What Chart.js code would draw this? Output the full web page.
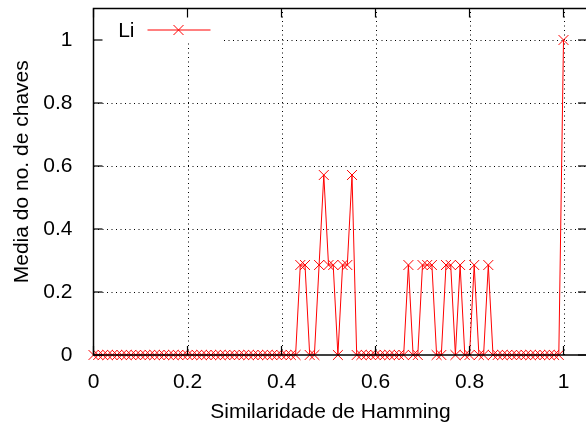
<!DOCTYPE html>
<html>
<head>
<meta charset="utf-8">
<script src="https://cdn.jsdelivr.net/npm/chart.js@4/dist/chart.umd.min.js"></script>
<style>
  html, body { margin: 0; padding: 0; background: #fff; overflow: hidden; }
  canvas { display: block; }
</style>
</head>
<body>
<canvas id="c" width="595" height="427"></canvas>
<script>
// ============================================================
// DATA
// ============================================================
const serieNome = 'Li';
const tituloX = 'Similaridade de Hamming';
const tituloY = 'Media do no. de chaves';

const similaridade = [
  0.00, 0.01, 0.02, 0.03, 0.04, 0.05, 0.06, 0.07, 0.08, 0.09,
  0.10, 0.11, 0.12, 0.13, 0.14, 0.15, 0.16, 0.17, 0.18, 0.19,
  0.20, 0.21, 0.22, 0.23, 0.24, 0.25, 0.26, 0.27, 0.28, 0.29,
  0.30, 0.31, 0.32, 0.33, 0.34, 0.35, 0.36, 0.37, 0.38, 0.39,
  0.40, 0.41, 0.42, 0.43, 0.44, 0.45, 0.46, 0.47, 0.48, 0.49,
  0.50, 0.51, 0.52, 0.53, 0.54, 0.55, 0.56, 0.57, 0.58, 0.59,
  0.60, 0.61, 0.62, 0.63, 0.64, 0.65, 0.66, 0.67, 0.68, 0.69,
  0.70, 0.71, 0.72, 0.73, 0.74, 0.75, 0.76, 0.77, 0.78, 0.79,
  0.80, 0.81, 0.82, 0.83, 0.84, 0.85, 0.86, 0.87, 0.88, 0.89,
  0.90, 0.91, 0.92, 0.93, 0.94, 0.95, 0.96, 0.97, 0.98, 0.99,
  1.00
];

const mediaChaves = [
  0, 0, 0, 0, 0, 0, 0, 0, 0, 0,
  0, 0, 0, 0, 0, 0, 0, 0, 0, 0,
  0, 0, 0, 0, 0, 0, 0, 0, 0, 0,
  0, 0, 0, 0, 0, 0, 0, 0, 0, 0,
  0, 0, 0, 0, 0.2857, 0.2857, 0, 0, 0.2857, 0.5714,
  0.2857, 0.2857, 0, 0.2857, 0.2857, 0.5714, 0, 0, 0, 0,
  0, 0, 0, 0, 0, 0, 0, 0.2857, 0, 0,
  0.2857, 0.2857, 0.2857, 0, 0, 0.2857, 0.2857, 0, 0.2857, 0,
  0, 0.2857, 0, 0, 0.2857, 0, 0, 0, 0, 0,
  0, 0, 0, 0, 0, 0, 0, 0, 0, 0,
  1
];

const xTicks = [0, 0.2, 0.4, 0.6, 0.8, 1];
const yTicks = [0, 0.2, 0.4, 0.6, 0.8, 1];

// ============================================================
// CHART HELPERS
// ============================================================
const fonte = { family: "'Liberation Sans', Arial, Helvetica, sans-serif", size: 21 };

function seg(ctx, x1, y1, x2, y2) {
  ctx.beginPath(); ctx.moveTo(x1, y1); ctx.lineTo(x2, y2); ctx.stroke();
}

// gnuplot-like frame: dotted grid, opaque key, inward ticks, axis labels
const gnuFrame = {
  id: 'gnuFrame',
  beforeDatasetsDraw(chart) {
    const { ctx, chartArea: a, scales: { x, y } } = chart;
    ctx.save();
    ctx.strokeStyle = '#000';
    ctx.lineWidth = 1;
    ctx.setLineDash([1, 3.5]);
    xTicks.forEach(v => {
      if (v === 0) return;
      const px = Math.round(x.getPixelForValue(v)) + 0.5;
      seg(ctx, px, a.bottom, px, a.top);
    });
    yTicks.forEach(v => {
      if (v === 0) return;
      const py = Math.round(y.getPixelForValue(v)) + 0.5;
      seg(ctx, a.left, py, a.right, py);
    });
    ctx.setLineDash([]);
    // key box (opaque)
    ctx.fillStyle = '#fff';
    ctx.fillRect(a.left + 1, a.top + 1, 128, y.getPixelForValue(1) + 1.5 - a.top);
    ctx.restore();
  },
  afterDatasetsDraw(chart) {
    const { ctx, chartArea: a, scales: { x, y } } = chart;
    ctx.save();
    ctx.strokeStyle = '#000';
    ctx.lineWidth = 1.5;
    ctx.strokeRect(a.left, a.top, a.right - a.left, a.bottom - a.top);
    ctx.lineWidth = 1.2;
    const tl = 9;
    xTicks.forEach(v => {
      const px = x.getPixelForValue(v);
      seg(ctx, px, a.bottom, px, a.bottom - tl);
      seg(ctx, px, a.top, px, a.top + tl);
    });
    yTicks.forEach(v => {
      const py = y.getPixelForValue(v);
      seg(ctx, a.left, py, a.left + tl, py);
      seg(ctx, a.right, py, a.right - tl, py);
    });

    ctx.fillStyle = '#000';
    ctx.font = fonte.size + 'px ' + fonte.family;
    ctx.textBaseline = 'alphabetic';

    // key contents
    const ds = chart.data.datasets[0];
    const ky = a.top + 21.5;
    ctx.textAlign = 'right';
    ctx.fillText(ds.label, a.left + 41, ky + 6.5);
    ctx.strokeStyle = ds.borderColor;
    ctx.lineWidth = 1;
    seg(ctx, a.left + 54, ky, a.left + 117, ky);
    const mx = a.left + 85, r = 5;
    seg(ctx, mx - r, ky - r, mx + r, ky + r);
    seg(ctx, mx - r, ky + r, mx + r, ky - r);

    // axis titles
    ctx.textAlign = 'center';
    ctx.fillText(tituloX, x.getPixelForValue(0.5) + 2, a.bottom + 63);
    ctx.translate(a.left - 66, (a.top + a.bottom) / 2 - 10);
    ctx.rotate(-Math.PI / 2);
    ctx.fillText(tituloY, 0, 0);
    ctx.restore();
  }
};

const eixoComum = (pad) => ({
  type: 'linear',
  grid: { display: false },
  border: { display: false },
  ticks: {
    color: '#000', font: fonte, padding: pad, autoSkip: false, maxRotation: 0,
    callback: v => String(v),
  },
  title: { display: false },
});

const eixoX = eixoComum(7);
eixoX.min = 0; eixoX.max = 1.05;
eixoX.afterBuildTicks = s => { s.ticks = xTicks.map(v => ({ value: v })); };
eixoX.afterFit = s => { s.height = 72; s.paddingLeft = 0; s.paddingRight = 0; };

const eixoY = eixoComum(13);
eixoY.min = 0; eixoY.max = 1.1;
eixoY.afterBuildTicks = s => { s.ticks = yTicks.map(v => ({ value: v })); };
eixoY.afterFit = s => { s.width = 93.5; s.paddingTop = 0; s.paddingBottom = 0; };

new Chart(document.getElementById('c').getContext('2d'), {
  type: 'line',
  data: {
    datasets: [{
      label: serieNome,
      data: similaridade.map((v, i) => ({ x: v, y: mediaChaves[i] })),
      borderColor: '#ff0000',
      borderWidth: 1,
      backgroundColor: 'rgba(0,0,0,0)',
      pointStyle: 'crossRot',
      pointRadius: 7,
      pointBorderWidth: 1,
      pointBorderColor: '#ff0000',
      tension: 0,
      clip: false,
    }]
  },
  options: {
    responsive: false, animation: false, devicePixelRatio: 1,
    layout: { padding: { top: 8.5, right: 3, left: 0, bottom: 0 } },
    plugins: { legend: { display: false }, tooltip: { enabled: false } },
    scales: { x: eixoX, y: eixoY },
  },
  plugins: [gnuFrame],
});
</script>
</body>
</html>
